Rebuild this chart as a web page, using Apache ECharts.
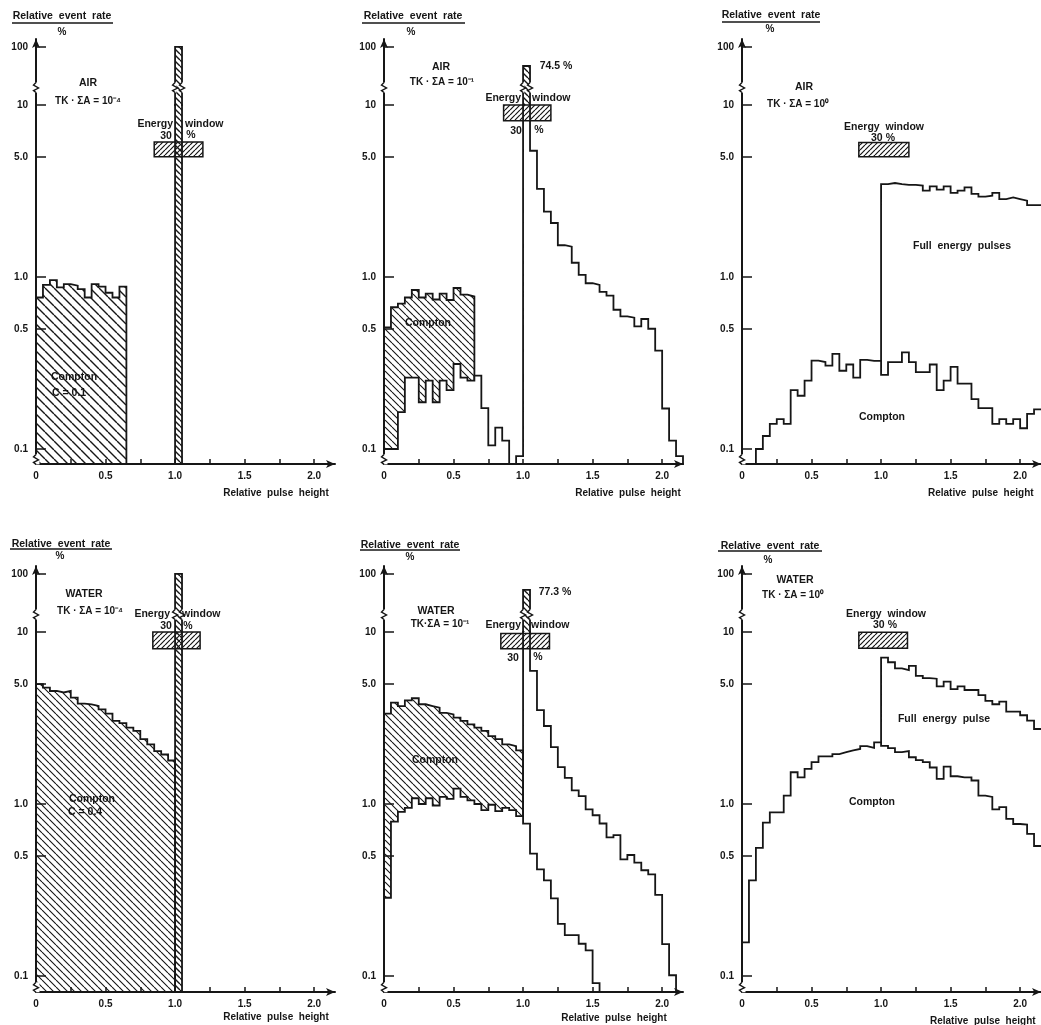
<!DOCTYPE html>
<html><head><meta charset="utf-8">
<script src="https://cdn.jsdelivr.net/npm/echarts@6/dist/echarts.min.js"></script>
<style>html,body{margin:0;padding:0;background:#fff}#c{width:1041px;height:1025px}</style>
</head><body><div id="c"></div>
<script>
// ================= DATA =================
const BIN = 0.05;                      // bin width in relative pulse height
const xLabelValues = [0, 0.5, 1, 1.5, 2];
const xLabelTexts  = ['0', '0.5', '1.0', '1.5', '2.0'];
const xTickValues  = [0.25, 0.5, 0.75, 1, 1.25, 1.5, 1.75, 2];
const yTickValues  = [0.1, 0.5, 1, 5, 10];
const yTickTexts   = ['0.1', '0.5', '1.0', '5.0', '10'];
const yUpperTickValues = [100];
const yUpperTickTexts  = ['100'];

// --- AIR, TK·ΣA = 10^-4 ---
const airA_comptonStart = 0;
const airA_compton = [0.76, 0.90, 0.96, 0.87, 0.91, 0.89, 0.85, 0.76, 0.91, 0.88, 0.81, 0.76, 0.88];
const airA_peakStart = 1.0;
const airA_peak = [100];
const airA_window = [0.85, 1.2, 5.0, 6.1];

// --- AIR, TK·ΣA = 10^-1 ---
const airB_compton = [0.51, 0.667, 0.70, 0.76, 0.84, 0.76, 0.80, 0.74, 0.80, 0.735, 0.863, 0.79, 0.77];
const airB_low = [0.1, 0.1, 0.164, 0.26, 0.26, 0.187, 0.25, 0.187, 0.25, 0.22, 0.312, 0.26, 0.25, 0.267, 0.173, 0.105, 0.133, 0.112, null, 0.091];
const airB_peak = [47];
const airB_right = [5.42, 3.25, 2.40, 2.06, 1.53, 1.50, 1.21, 1.03, 0.92, 0.90, 0.82, 0.78, 0.645, 0.59, 0.58, 0.517, 0.57, 0.50, 0.373, 0.172, 0.112, 0.091];
const airB_window = [0.86, 1.2, 8.1, 10];

// --- AIR, TK·ΣA = 10^0 ---
const airC_comptonStart = 0.10;
const airC_compton = [0.1, 0.119, 0.14, 0.149, 0.14, 0.22, 0.204, 0.25, 0.326, 0.32, 0.305, 0.357, 0.285, 0.31, 0.26, 0.33, 0.325, 0.325,
  0.27, 0.32, 0.32, 0.365, 0.32, 0.28, 0.28, 0.31, 0.22, 0.25, 0.30, 0.24, 0.24, 0.195, 0.173, 0.173, 0.14, 0.149, 0.14, 0.149, 0.132, 0.16, 0.17];
const airC_fullStart = 1.0;
const airC_full = [3.47, 3.52, 3.47, 3.43, 3.43, 3.40, 3.18, 3.36, 3.22, 3.36, 3.08, 3.18, 3.32, 3.04, 2.93, 2.97, 3.08, 2.84, 2.9, 2.84, 2.78, 2.62, 2.62];
const airC_window = [0.84, 1.2, 5.0, 6.06];

// --- WATER, TK·ΣA = 10^-4 ---
const watA_compton = [4.97, 4.75, 4.54, 4.45, 4.54, 4.15, 3.83, 3.8, 3.72, 3.55, 3.35, 3.04, 2.95, 2.78, 2.66, 2.38, 2.22, 2.03, 1.94, 1.79];
const watA_peakStart = 1.0;
const watA_peak = [100];
const watA_window = [0.84, 1.18, 8.0, 10];

// --- WATER, TK·ΣA = 10^-1 ---
const watB_compton = [3.35, 3.88, 3.71, 4.0, 4.12, 3.80, 3.71, 3.63, 3.39, 3.32, 3.18, 3.04, 2.90, 2.78, 2.66, 2.48, 2.38, 2.22, 2.17, 2.05];
const watB_low = [0.285, 0.79, 0.90, 0.95, 1.08, 1.0, 1.08, 0.98, 1.1, 1.07, 1.23, 1.1, 1.05, 1.0, 0.92, 0.99, 0.91, 0.95, 0.92, 0.85,
  0.768, 0.514, 0.417, 0.36, 0.283, 0.201, 0.173, 0.173, 0.154, 0.141, 0.091];
const watB_peakStart = 1.0;
const watB_peak = [53];
const watB_full = [5.94, 3.51, 2.84, 2.14, 1.64, 1.42, 1.20, 1.11, 0.93, 0.86, 0.77, 0.64, 0.66, 0.477, 0.505, 0.456, 0.412, 0.39, 0.296, 0.153, 0.101];
const watB_window = [0.84, 1.19, 8.0, 9.8];

// --- WATER, TK·ΣA = 10^0 ---
const watC_compton = [0.157, 0.36, 0.555, 0.78, 0.895, 0.895, 1.12, 1.53, 1.43, 1.6, 1.75, 1.89, 1.89, 1.95, 2.0, 2.05, 2.09, 2.17, 2.12, 2.28,
  2.18, 2.11, 2.0, 2.03, 1.87, 1.8, 1.75, 1.63, 1.40, 1.65, 1.45, 1.43, 1.43, 1.37, 1.12, 1.1, 0.93, 0.96, 0.82, 0.765, 0.76, 0.67, 0.57];
const watC_fullStart = 1.0;
const watC_full = [7.1, 6.67, 6.15, 6.0, 6.36, 5.56, 5.4, 5.35, 4.83, 5.15, 4.66, 4.83, 4.6, 4.6, 4.3, 3.98, 3.8, 3.94, 3.44, 3.44, 3.28, 3.05, 2.73];
const watC_window = [0.84, 1.19, 8.04, 9.95];

// ================= STYLE / LAYOUT =================
const INK = '#161616';
const FONT = '"Liberation Sans", Arial, sans-serif';
const X_MAX = 2.15;
const COL_LEFT = [36, 384, 742];
const PLOT_W = 299;
const ROWS = [
  { upperTop: 39, split: 105, bottom: 464, lowerMin: 0.0818 },
  { upperTop: 566, split: 632, bottom: 992, lowerMin: 0.0807 }
];
const UPPER_MAX = 137;
const BASE = 0.01;               // below every axis minimum: edges drop to the axis

function hatch(size, lw, dir) {
  const c = document.createElement('canvas');
  c.width = c.height = size;
  const g = c.getContext('2d');
  g.strokeStyle = INK; g.lineWidth = lw;
  g.beginPath();
  for (let k = -1; k <= 1; k++) {
    if (dir === '\\') { g.moveTo(k * size, 0); g.lineTo(k * size + size, size); }
    else { g.moveTo(k * size, size); g.lineTo(k * size + size, 0); }
  }
  g.stroke();
  return { image: c, repeat: 'repeat' };
}
const H_COMP1 = hatch(9, 1.4, '\\');
const H_COMP = hatch(7, 1.1, '\\');
const H_BAR = hatch(6, 1.4, '\\');
const H_WIN = hatch(5, 1.2, '/');

const r4 = v => Math.round(v * 10000) / 10000;
// histogram -> outline points (bin start + values)
function steps(start, values, from, to) {
  const pts = [];
  if (from !== 'none') pts.push([r4(start), from == null ? BASE : from]);
  values.forEach((v, i) => {
    const y = v == null ? BASE : v;
    pts.push([r4(start + i * BIN), y], [r4(start + (i + 1) * BIN), y]);
  });
  if (to !== 'none') pts.push([r4(start + values.length * BIN), to == null ? BASE : to]);
  return pts;
}
function valueAt(start, values, x) { return values[Math.round((x - start) / BIN)]; }
function labelFor(vals, texts, v) {
  const i = vals.findIndex(t => Math.abs(t - v) <= Math.abs(t) * 1e-6 + 1e-9);
  return i < 0 ? '' : texts[i];
}

const grids = [], xAxes = [], yAxes = [], series = [];
const labelStyle = { color: INK, fontFamily: FONT, fontWeight: 'bold', fontSize: 10 };

function addPanel(col, row) {
  const L = COL_LEFT[col], R = ROWS[row];
  const lo = grids.length, up = lo + 1;
  grids.push({ left: L, top: R.split, width: PLOT_W, height: R.bottom - R.split, containLabel: false, outerBoundsMode: 'none' });
  grids.push({ left: L, top: R.upperTop, width: PLOT_W, height: R.split - R.upperTop, containLabel: false, outerBoundsMode: 'none' });
  xAxes.push({
    type: 'value', gridIndex: lo, min: 0, max: X_MAX, z: 10,
    axisLine: { show: true, onZero: false, symbol: ['none', 'arrow'], symbolSize: [6, 9], lineStyle: { color: INK, width: 2 } },
    axisTick: { show: true, inside: true, length: 5, customValues: xTickValues, lineStyle: { color: INK, width: 1.5 } },
    axisLabel: Object.assign({ show: true, customValues: xLabelValues, margin: 7,
      formatter: v => labelFor(xLabelValues, xLabelTexts, v) }, labelStyle),
    splitLine: { show: false }, minorTick: { show: false }
  });
  xAxes.push({ type: 'value', gridIndex: up, min: 0, max: X_MAX, show: false });
  yAxes.push({
    type: 'log', logBase: 10, gridIndex: lo, min: R.lowerMin, max: 10, z: 10,
    axisLine: { show: true, onZero: false, lineStyle: { color: INK, width: 2 } },
    axisTick: { show: true, inside: true, length: 10, customValues: yTickValues, lineStyle: { color: INK, width: 1.5 } },
    axisLabel: Object.assign({ show: true, customValues: yTickValues, margin: 8,
      formatter: v => labelFor(yTickValues, yTickTexts, v) }, labelStyle),
    splitLine: { show: false }, minorTick: { show: false }, minorSplitLine: { show: false }
  });
  yAxes.push({
    type: 'log', logBase: 10, gridIndex: up, min: 10, max: UPPER_MAX, z: 10,
    axisLine: { show: true, onZero: false, symbol: ['none', 'arrow'], symbolSize: [6, 9], lineStyle: { color: INK, width: 2 } },
    axisTick: { show: true, inside: true, length: 10, customValues: yUpperTickValues, lineStyle: { color: INK, width: 1.5 } },
    axisLabel: Object.assign({ show: true, customValues: yUpperTickValues, margin: 8,
      formatter: v => labelFor(yUpperTickValues, yUpperTickTexts, v) }, labelStyle),
    splitLine: { show: false }, minorTick: { show: false }, minorSplitLine: { show: false }
  });
  return { lo, up };
}
function fill(g, pts, color, z) {
  return { type: 'line', xAxisIndex: g, yAxisIndex: g, data: pts, symbol: 'none', showSymbol: false,
    lineStyle: { width: 0, opacity: 0 }, areaStyle: { color, opacity: 1, origin: 'start' },
    z, silent: true, clip: true, animation: false };
}
function outline(g, pts, z) {
  return { type: 'line', xAxisIndex: g, yAxisIndex: g, data: pts, symbol: 'none', showSymbol: false,
    lineStyle: { color: INK, width: 1.8, join: 'miter' }, z, silent: true, clip: true, animation: false };
}
function win(w) {
  return { silent: true, z: 6, label: { show: false },
    itemStyle: { color: H_WIN, borderColor: INK, borderWidth: 1.5 },
    data: [[{ coord: [w[0], w[2]] }, { coord: [w[1], w[3]] }]] };
}

// ---- Panel 1: AIR 1e-4 ----
const P1 = addPanel(0, 0);
{
  const c = steps(airA_comptonStart, airA_compton);
  const pk = steps(airA_peakStart, airA_peak);
  series.push(fill(P1.lo, c, H_COMP1, 2));
  const o = outline(P1.lo, c, 8); o.markArea = win(airA_window); series.push(o);
  series.push(fill(P1.lo, pk, H_BAR, 7), outline(P1.lo, pk, 8));
  series.push(fill(P1.up, pk, H_BAR, 7), outline(P1.up, pk, 8));
}
// ---- Panel 2: AIR 1e-1 ----
const P2 = addPanel(1, 0);
{
  const c = steps(0, airB_compton);
  const total = steps(0, airB_low.concat(airB_peak, airB_right));
  const pk = steps(airB_low.length * BIN, airB_peak);
  series.push(fill(P2.lo, c, H_COMP, 2), outline(P2.lo, c, 2));
  series.push(fill(P2.lo, total, '#ffffff', 3));
  const o = outline(P2.lo, total, 8); o.markArea = win(airB_window); series.push(o);
  series.push(fill(P2.up, pk, H_BAR, 7), outline(P2.up, pk, 8));
}
// ---- Panel 3: AIR 1e0 ----
const P3 = addPanel(2, 0);
{
  const c = steps(airC_comptonStart, airC_compton, null, 'none');
  const f = steps(airC_fullStart, airC_full, valueAt(airC_comptonStart, airC_compton, airC_fullStart - BIN), 'none');
  const o = outline(P3.lo, c, 8); o.markArea = win(airC_window); series.push(o);
  series.push(outline(P3.lo, f, 8));
}
// ---- Panel 4: WATER 1e-4 ----
const P4 = addPanel(0, 1);
{
  const c = steps(0, watA_compton);
  const pk = steps(watA_peakStart, watA_peak);
  series.push(fill(P4.lo, c, H_COMP, 2));
  const o = outline(P4.lo, c, 8); o.markArea = win(watA_window); series.push(o);
  series.push(fill(P4.lo, pk, H_BAR, 7), outline(P4.lo, pk, 8));
  series.push(fill(P4.up, pk, H_BAR, 7), outline(P4.up, pk, 8));
}
// ---- Panel 5: WATER 1e-1 ----
const P5 = addPanel(1, 1);
{
  const c = steps(0, watB_compton);
  const low = steps(0, watB_low);
  const f = steps(watB_peakStart, watB_peak.concat(watB_full), valueAt(0, watB_low, watB_peakStart - BIN));
  const pk = steps(watB_peakStart, watB_peak);
  series.push(fill(P5.lo, c, H_COMP, 2), outline(P5.lo, c, 2));
  series.push(fill(P5.lo, low, '#ffffff', 3));
  const o = outline(P5.lo, low, 8); o.markArea = win(watB_window); series.push(o);
  series.push(outline(P5.lo, f, 8));
  series.push(fill(P5.up, pk, H_BAR, 7), outline(P5.up, pk, 8));
}
// ---- Panel 6: WATER 1e0 ----
const P6 = addPanel(2, 1);
{
  const c = steps(0, watC_compton, null, 'none');
  const f = steps(watC_fullStart, watC_full, valueAt(0, watC_compton, watC_fullStart - BIN), 'none');
  const o = outline(P6.lo, c, 8); o.markArea = win(watC_window); series.push(o);
  series.push(outline(P6.lo, f, 8));
}

// ================= TEXT ANNOTATIONS =================
const EVENT = 'Relative  event  rate', PULSE = 'Relative  pulse  height';
const notes = [
  // x, y, text, align, size
  [62, 16, EVENT, 'center', 10.5], [62, 32, '%', 'center', 10],
  [88, 83, 'AIR', 'center', 10.5], [88, 101, 'TK · ΣA = 10⁻⁴', 'center', 10],
  [173, 124, 'Energy', 'right', 10.5], [185, 124, 'window', 'left', 10.5],
  [166, 136, '30', 'center', 10.5], [191, 135, '%', 'center', 10.5],
  [51, 377, 'Compton', 'left', 10.5], [52, 393, 'C = 0.1', 'left', 10.5],
  [276, 493, PULSE, 'center', 10],

  [413, 16, EVENT, 'center', 10.5], [411, 32, '%', 'center', 10],
  [441, 67, 'AIR', 'center', 10.5], [442, 82, 'TK · ΣA = 10⁻¹', 'center', 10],
  [556, 66, '74.5 %', 'center', 10.5],
  [521, 98, 'Energy', 'right', 10.5], [532, 98, 'window', 'left', 10.5],
  [516, 131, '30', 'center', 10.5], [539, 130, '%', 'center', 10.5],
  [428, 323, 'Compton', 'center', 10.5],
  [628, 493, PULSE, 'center', 10],

  [771, 15, EVENT, 'center', 10.5], [770, 29, '%', 'center', 10],
  [804, 87, 'AIR', 'center', 10.5], [798, 104, 'TK · ΣA = 10⁰', 'center', 10],
  [884, 127, 'Energy  window', 'center', 10.5], [883, 138, '30 %', 'center', 10.5],
  [962, 246, 'Full  energy  pulses', 'center', 10.5],
  [882, 417, 'Compton', 'center', 10.5],
  [928, 493, PULSE, 'left', 10],

  [61, 544, EVENT, 'center', 10.5], [60, 556, '%', 'center', 10],
  [84, 594, 'WATER', 'center', 10.5], [90, 611, 'TK · ΣA = 10⁻⁴', 'center', 10],
  [170, 614, 'Energy', 'right', 10.5], [182, 614, 'window', 'left', 10.5],
  [166, 626, '30', 'center', 10.5], [188, 626, '%', 'center', 10.5],
  [92, 799, 'Compton', 'center', 10.5], [68, 812, 'C = 0.4', 'left', 10.5],
  [276, 1017, PULSE, 'center', 10],

  [410, 545, EVENT, 'center', 10.5], [410, 557, '%', 'center', 10],
  [436, 611, 'WATER', 'center', 10.5], [440, 624, 'TK·ΣA = 10⁻¹', 'center', 10],
  [555, 592, '77.3 %', 'center', 10.5],
  [521, 625, 'Energy', 'right', 10.5], [531, 625, 'window', 'left', 10.5],
  [513, 658, '30', 'center', 10.5], [538, 657, '%', 'center', 10.5],
  [435, 760, 'Compton', 'center', 10.5],
  [614, 1018, PULSE, 'center', 10],

  [770, 546, EVENT, 'center', 10.5], [768, 560, '%', 'center', 10],
  [795, 580, 'WATER', 'center', 10.5], [793, 595, 'TK · ΣA = 10⁰', 'center', 10],
  [886, 614, 'Energy  window', 'center', 10.5], [885, 625, '30 %', 'center', 10.5],
  [944, 719, 'Full  energy  pulse', 'center', 10.5],
  [872, 802, 'Compton', 'center', 10.5],
  [930, 1021, PULSE, 'left', 10]
];
const underlines = [[12, 23, 113], [362, 23, 465], [722, 22, 820], [10, 549, 112], [360, 550, 460], [718, 551, 822]];

const graphic = [];
notes.forEach(n => graphic.push({
  type: 'text', x: n[0], y: n[1], z: 100, silent: true,
  style: { text: n[2], fill: INK, font: 'bold ' + n[4] + 'px ' + FONT, align: n[3], verticalAlign: 'middle' }
}));
underlines.forEach(u => graphic.push({
  type: 'line', z: 100, silent: true, shape: { x1: u[0], y1: u[1], x2: u[2], y2: u[1] }, style: { stroke: INK, lineWidth: 1.5 }
}));

const chart = echarts.init(document.getElementById('c'), null, { renderer: 'canvas' });
chart.setOption({
  backgroundColor: '#ffffff', animation: false,
  grid: grids, xAxis: xAxes, yAxis: yAxes, series: series, graphic: graphic
});

// axis-break marks (decoration), placed through the axes' own conversion
function breakMark(x, y, w, out) {
  out.push({ type: 'rect', z: 60, silent: true, shape: { x: x - w / 2, y: y - 5, width: w, height: 10 }, style: { fill: '#fff' } });
  out.push({ type: 'polyline', z: 61, silent: true, shape: { points: [[x, y - 5], [x - 2.5, y - 2.5], [x + 2.5, y + 0.5], [x - 2.5, y + 3], [x, y + 5]] },
    style: { stroke: INK, lineWidth: 1.4, fill: null } });
}
const extra = graphic.slice();
[P1, P2, P3, P4, P5, P6].forEach((P, i) => {
  const top = chart.convertToPixel({ xAxisIndex: P.up, yAxisIndex: P.up }, [0, 20]);
  const bot = chart.convertToPixel({ xAxisIndex: P.lo, yAxisIndex: P.lo }, [0, i < 3 ? 0.087 : 0.086]);
  breakMark(top[0], top[1], 7, extra);
  breakMark(bot[0], bot[1], 7, extra);
  if (P !== P3 && P !== P6) {
    const a = chart.convertToPixel({ xAxisIndex: P.up, yAxisIndex: P.up }, [1.0, 20]);
    const b = chart.convertToPixel({ xAxisIndex: P.up, yAxisIndex: P.up }, [1.05, 20]);
    breakMark(a[0], a[1], 3, extra);
    breakMark(b[0], b[1], 3, extra);
  }
});
chart.setOption({ graphic: extra }, { replaceMerge: ['graphic'] });
</script></body></html>
